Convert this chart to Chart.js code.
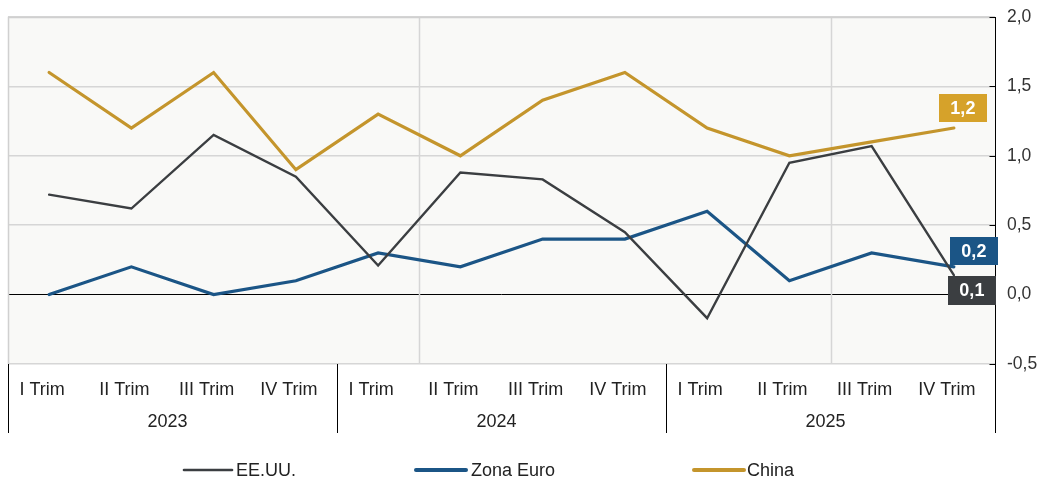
<!DOCTYPE html>
<html>
<head>
<meta charset="utf-8">
<script src="https://cdn.jsdelivr.net/npm/chart.js@4/dist/chart.umd.min.js"></script>
<style>
  html, body { margin: 0; padding: 0; background: #ffffff; }
  #wrap { width: 1043px; height: 480px; }
</style>
</head>
<body>
<div id="wrap"><canvas id="c" width="1043" height="480"></canvas></div>
<script>
// Quarterly growth (%), 2023-2025
const QUARTERS = ['I Trim', 'II Trim', 'III Trim', 'IV Trim',
                  'I Trim', 'II Trim', 'III Trim', 'IV Trim',
                  'I Trim', 'II Trim', 'III Trim', 'IV Trim'];
const YEARS = ['2023', '2024', '2025'];
const SERIES_NAMES = ['EE.UU.', 'Zona Euro', 'China'];
const US = [0.72, 0.62, 1.15, 0.85, 0.21, 0.88, 0.83, 0.45, -0.17, 0.95, 1.07, 0.14];
const EURO = [0.0, 0.2, 0.0, 0.1, 0.3, 0.2, 0.4, 0.4, 0.6, 0.1, 0.3, 0.2];
const CHINA = [1.6, 1.2, 1.6, 0.9, 1.3, 1.0, 1.4, 1.6, 1.2, 1.0, 1.1, 1.2];
const Y_MIN = -0.5, Y_MAX = 2.0, Y_STEP = 0.5;

const COLORS = { us: '#3b3e41', euro: '#1b5586', china: '#c4952c' };
const LABEL_BG = { us: '#3b3e41', euro: '#1b5586', china: '#d6a22a' };
const FONT = "'Liberation Sans', Arial, sans-serif";
const fmt = v => v.toFixed(1).replace('.', ',');

Chart.defaults.font.family = FONT;
Chart.defaults.color = '#333333';

// plot background, frame, separators and inward ticks
const framePlugin = {
  id: 'frame',
  beforeDraw(chart) {
    const { ctx, chartArea: a } = chart;
    ctx.save();
    ctx.fillStyle = '#f9f9f7';
    ctx.fillRect(a.left, a.top, a.right - a.left, a.bottom - a.top);
    ctx.restore();
  },
  beforeDatasetsDraw(chart) {
    const { ctx, chartArea: a, scales } = chart;
    const x = scales.x, y = scales.y;
    const axisBottom = scales.x2.bottom;
    ctx.save();
    // vertical gridlines every five categories
    ctx.strokeStyle = '#d6d6d6';
    ctx.lineWidth = 1.5;
    [4.5, 9.5].forEach(v => {
      const px = Math.round(x.getPixelForValue(v)) + 0.5;
      ctx.beginPath(); ctx.moveTo(px, a.top); ctx.lineTo(px, a.bottom); ctx.stroke();
    });
    // frame top and left
    ctx.strokeStyle = '#d0d0d0';
    ctx.lineWidth = 1.5;
    ctx.beginPath();
    ctx.moveTo(a.left + 0.5, a.bottom);
    ctx.lineTo(a.left + 0.5, a.top + 0.5);
    ctx.lineTo(a.right, a.top + 0.5);
    ctx.stroke();
    // year separators below the plot
    ctx.strokeStyle = '#000000';
    ctx.lineWidth = 1;
    [-0.5, 3.5, 7.5, 11.5].forEach(v => {
      const px = Math.round(x.getPixelForValue(v)) + 0.5;
      ctx.beginPath(); ctx.moveTo(px, a.bottom); ctx.lineTo(px, axisBottom); ctx.stroke();
    });
    // right value axis with inward ticks
    const rx = Math.round(a.right) + 0.5;
    ctx.beginPath(); ctx.moveTo(rx, a.top); ctx.lineTo(rx, axisBottom); ctx.stroke();
    for (let v = Y_MIN; v <= Y_MAX + 1e-9; v += Y_STEP) {
      const py = Math.round(y.getPixelForValue(v)) + 0.5;
      ctx.beginPath(); ctx.moveTo(rx - 6, py); ctx.lineTo(rx, py); ctx.stroke();
    }
    ctx.restore();
  }
};

// value boxes on the last point of each line
const endLabels = {
  id: 'endLabels',
  afterDatasetsDraw(chart) {
    const { ctx } = chart;
    ctx.save();
    chart.data.datasets.forEach((ds, i) => {
      const meta = chart.getDatasetMeta(i);
      const last = meta.data.length - 1;
      const pt = meta.data[last];
      const o = ds.endLabel;
      const cx = pt.x + o.dx, cy = pt.y + o.dy;
      ctx.fillStyle = o.bg;
      ctx.fillRect(Math.round(cx - o.w / 2), Math.round(cy - o.h / 2), o.w, o.h);
      ctx.fillStyle = '#ffffff';
      ctx.font = "bold 18px " + FONT;
      ctx.textAlign = 'center';
      ctx.textBaseline = 'middle';
      ctx.fillText(fmt(ds.data[last]), cx, cy + 1);
    });
    ctx.restore();
  }
};

// legend row under the axis
const lineLegend = {
  id: 'lineLegend',
  afterDraw(chart) {
    const { ctx } = chart;
    const items = chart.options.plugins.lineLegend.items;
    const y = chart.options.plugins.lineLegend.y;
    ctx.save();
    ctx.font = "18px " + FONT;
    ctx.textBaseline = 'middle';
    ctx.textAlign = 'left';
    chart.data.datasets.forEach((ds, i) => {
      const it = items[i];
      ctx.strokeStyle = ds.borderColor;
      ctx.lineWidth = it.lw;
      ctx.lineCap = 'round';
      ctx.beginPath(); ctx.moveTo(it.x, y); ctx.lineTo(it.x + it.len, y); ctx.stroke();
      ctx.fillStyle = '#222222';
      ctx.fillText(ds.label, it.x + it.len + it.gap, y + 1);
    });
    ctx.restore();
  }
};

new Chart(document.getElementById('c'), {
  type: 'line',
  data: {
    labels: QUARTERS,
    datasets: [
      { label: SERIES_NAMES[0], data: US, borderColor: COLORS.us, borderWidth: 2.4,
        endLabel: { dx: 18, dy: 15, w: 48, h: 29, bg: LABEL_BG.us }, order: 0 },
      { label: SERIES_NAMES[1], data: EURO, borderColor: COLORS.euro, borderWidth: 3.2,
        endLabel: { dx: 20, dy: -16, w: 48, h: 28, bg: LABEL_BG.euro }, order: 1 },
      { label: SERIES_NAMES[2], data: CHINA, borderColor: COLORS.china, borderWidth: 3.2,
        endLabel: { dx: 9, dy: -20, w: 48, h: 28, bg: LABEL_BG.china }, order: 2 }
    ]
  },
  options: {
    responsive: false,
    animation: false,
    devicePixelRatio: 1,
    layout: { padding: { left: 8, top: 17, right: 0, bottom: 47 } },
    elements: {
      line: { tension: 0, borderJoinStyle: 'miter', borderCapStyle: 'round', fill: false },
      point: { radius: 0, hoverRadius: 0 }
    },
    plugins: {
      legend: { display: false },
      tooltip: { enabled: false },
      lineLegend: {
        y: 470,
        items: [
          { x: 184, len: 48, lw: 2.6, gap: 4 },
          { x: 416, len: 50, lw: 4, gap: 5 },
          { x: 694, len: 50, lw: 4, gap: 3 }
        ]
      }
    },
    scales: {
      x: {
        type: 'category',
        position: 'bottom',
        offset: true,
        weight: 0,
        grid: { display: false },
        border: { display: false },
        ticks: { font: { size: 18 }, color: '#222222', padding: 7, labelOffset: -7,
                 maxRotation: 0, autoSkip: false },
        afterFit(s) { s.height = 36; }
      },
      x2: {
        type: 'category',
        position: 'bottom',
        labels: YEARS,
        offset: true,
        weight: 1,
        grid: { display: false },
        border: { display: false },
        ticks: { font: { size: 18 }, color: '#222222', padding: 3, labelOffset: -5, maxRotation: 0 },
        afterFit(s) { s.height = 33; }
      },
      y: {
        position: 'right',
        min: Y_MIN,
        max: Y_MAX,
        ticks: {
          stepSize: Y_STEP,
          padding: 0,
          font: { size: 17.5 },
          color: '#333333',
          callback: v => fmt(v)
        },
        grid: {
          drawTicks: true,
          tickLength: 12,
          tickColor: 'rgba(0,0,0,0)',
          color: c => (c.tick && c.tick.value === 0) ? '#000000' : '#d6d6d6',
          lineWidth: c => (c.tick && c.tick.value === 0) ? 1 : 1.5
        },
        border: { display: false },
        afterFit(s) { s.width = 48; }
      }
    }
  },
  plugins: [framePlugin, endLabels, lineLegend]
});
</script>
</body>
</html>
